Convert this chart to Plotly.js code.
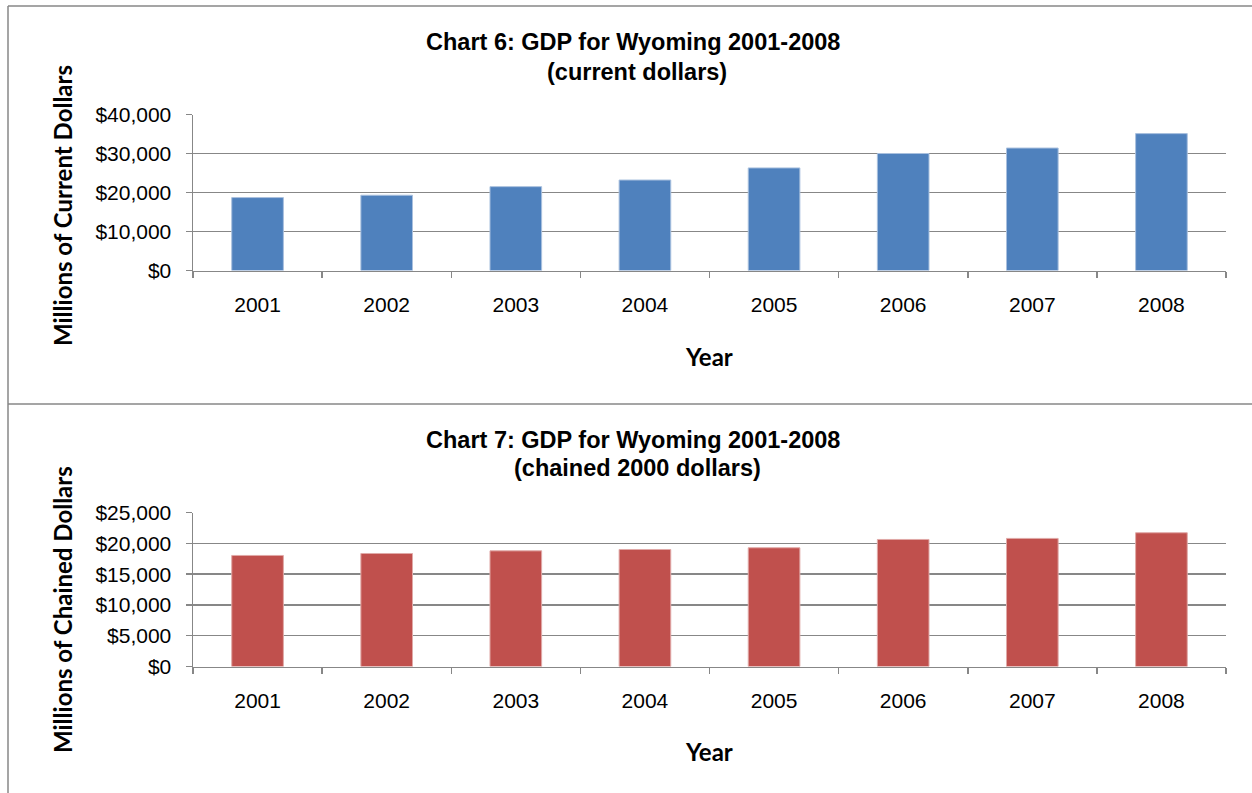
<!DOCTYPE html>
<html>
<head>
<meta charset="utf-8">
<script src="https://cdn.plot.ly/plotly-3.0.1.min.js"></script>
<style>
html,body{margin:0;padding:0;background:#fff;}
#chart{width:1252px;height:793px;}
</style>
</head>
<body>
<div id="chart"></div>
<script>
// Data
const years = ["2001","2002","2003","2004","2005","2006","2007","2008"];
const gdpCurrent = [18700, 19300, 21500, 23200, 26300, 30000, 31400, 35100];
const gdpChained = [18050, 18370, 18800, 19020, 19300, 20650, 20820, 21740];

const W = 1252, H = 793;
const px = v => v / W;
const py = v => 1 - v / H;

const gray = '#878787';
const tickFont = {family: 'Liberation Sans, Arial, sans-serif', size: 21, color: '#000'};
const titleFont = {family: 'Liberation Sans, Arial, sans-serif', size: 23.5, color: '#000'};
const axTitleFont = {family: 'Lato, Calibri, sans-serif', size: 24, color: '#000'};

const traces = [
  {type: 'bar', x: years, y: gdpCurrent, xaxis: 'x', yaxis: 'y', width: 0.4,
   marker: {color: '#4F81BD', line: {color: '#A9C0DE', width: 1}}, hoverinfo: 'skip'},
  {type: 'bar', x: years, y: gdpChained, xaxis: 'x2', yaxis: 'y2', width: 0.4,
   marker: {color: '#C0504D', line: {color: '#E0A9A7', width: 1}}, hoverinfo: 'skip'}
];

function xax(anchor, dom) {
  return {anchor: anchor, domain: dom, type: 'category', showline: true, linecolor: gray, linewidth: 1.5,
    ticks: 'outside', ticklen: 6, tickcolor: gray, tickwidth: 1.5, tickson: 'boundaries',
    tickfont: tickFont, ticklabelstandoff: 15, showgrid: false, zeroline: false, fixedrange: true};
}
function yax(anchor, dom, range, dtick) {
  return {anchor: anchor, domain: dom, range: range, dtick: dtick, tick0: 0, tickprefix: '$', tickformat: ',d',
    showline: true, linecolor: gray, linewidth: 1.5, ticks: 'outside', ticklen: 6, tickcolor: gray, tickwidth: 1.5,
    showgrid: true, gridcolor: gray, gridwidth: 1.5, zeroline: false, tickfont: tickFont,
    ticklabelstandoff: 10, fixedrange: true};
}

const layout = {
  width: W, height: H,
  margin: {l: 0, r: 0, t: 0, b: 0},
  paper_bgcolor: '#fff', plot_bgcolor: '#fff',
  showlegend: false,
  separators: '.,',
  xaxis: xax('y', [px(193), px(1226)]),
  yaxis: yax('x', [py(270.5), py(114.5)], [0, 40000], 10000),
  xaxis2: xax('y2', [px(193), px(1226)]),
  yaxis2: yax('x2', [py(666.5), py(512.7)], [0, 25000], 5000),
  annotations: [
    {text: '<b>Chart 6: GDP for Wyoming 2001-2008</b>', x: px(633), y: py(42), xref: 'paper', yref: 'paper', showarrow: false, font: titleFont, xanchor: 'center', yanchor: 'middle'},
    {text: '<b>(current dollars)</b>', x: px(637), y: py(72), xref: 'paper', yref: 'paper', showarrow: false, font: titleFont, xanchor: 'center', yanchor: 'middle'},
    {text: '<b>Year</b>', x: px(709), y: py(356), xref: 'paper', yref: 'paper', showarrow: false, font: axTitleFont, xanchor: 'center', yanchor: 'middle'},
    {text: '<b>Millions of Current Dollars</b>', x: px(62), y: py(206), xref: 'paper', yref: 'paper', showarrow: false, font: axTitleFont, textangle: -90, xanchor: 'center', yanchor: 'middle'},
    {text: '<b>Chart 7: GDP for Wyoming 2001-2008</b>', x: px(633), y: py(440), xref: 'paper', yref: 'paper', showarrow: false, font: titleFont, xanchor: 'center', yanchor: 'middle'},
    {text: '<b>(chained 2000 dollars)</b>', x: px(637), y: py(468), xref: 'paper', yref: 'paper', showarrow: false, font: titleFont, xanchor: 'center', yanchor: 'middle'},
    {text: '<b>Year</b>', x: px(709), y: py(751), xref: 'paper', yref: 'paper', showarrow: false, font: axTitleFont, xanchor: 'center', yanchor: 'middle'},
    {text: '<b>Millions of Chained Dollars</b>', x: px(62), y: py(610), xref: 'paper', yref: 'paper', showarrow: false, font: axTitleFont, textangle: -90, xanchor: 'center', yanchor: 'middle'}
  ],
  shapes: [
    {type: 'line', xref: 'paper', yref: 'paper', x0: px(8), x1: 1, y0: py(6), y1: py(6), line: {color: gray, width: 1.5}},
    {type: 'line', xref: 'paper', yref: 'paper', x0: px(8), x1: 1, y0: py(404), y1: py(404), line: {color: gray, width: 1.5}},
    {type: 'line', xref: 'paper', yref: 'paper', x0: px(8), x1: px(8), y0: py(6), y1: 0, line: {color: gray, width: 1.5}}
  ]
};

Plotly.newPlot('chart', traces, layout, {displayModeBar: false, staticPlot: true});
</script>
</body>
</html>
